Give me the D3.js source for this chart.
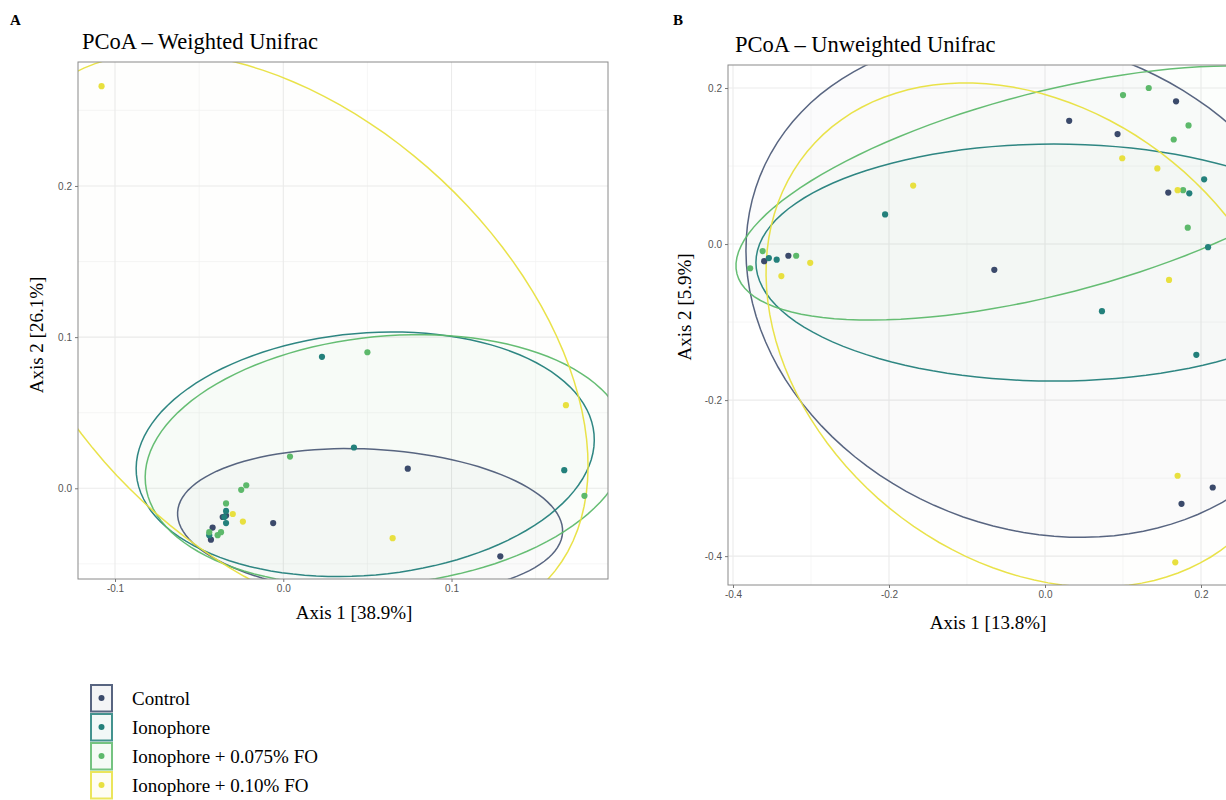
<!DOCTYPE html>
<html lang="en">
<head>
<meta charset="UTF-8">
<title>PCoA – Unifrac</title>
<script src="https://d3js.org/d3.v7.min.js"></script>
<style>
  body { margin: 0; background: #fff; }
  .tick text { font-family: "Liberation Sans", Arial, sans-serif; font-size: 10px; fill: #555; }
  .tick line { stroke: #777; }
  .serif { font-family: "Liberation Serif", "Times New Roman", serif; fill: #000; }
</style>
</head>
<body>
<svg id="chart" width="1226" height="800"></svg>
<script>
// groups and colours
const groups = ["Control", "Ionophore", "Ionophore + 0.075% FO", "Ionophore + 0.10% FO"];
const groupColors = ["#3b4a6b", "#23807b", "#5db96b", "#e8e03f"];

// A: weighted unifrac, [axis1, axis2]
const weightedControl = [[-0.006, -0.023], [0.074, 0.013], [0.129, -0.045], [-0.042, -0.026],
  [-0.043, -0.034], [-0.036, -0.019], [-0.034, -0.018]];
const weightedIonophore = [[0.023, 0.087], [0.042, 0.027], [0.167, 0.012], [-0.034, -0.015],
  [-0.035, -0.019], [-0.034, -0.023], [-0.044, -0.031]];
const weightedFO075 = [[0.050, 0.090], [0.004, 0.021], [0.179, -0.005], [-0.025, -0.001],
  [-0.022, 0.002], [-0.034, -0.010], [-0.037, -0.029], [-0.039, -0.031], [-0.044, -0.029]];
const weightedFO10 = [[-0.108, 0.266], [0.168, 0.055], [0.065, -0.033], [-0.030, -0.017], [-0.024, -0.022]];
// 95% ellipses: [centre x, centre y, axis u x, axis u y, axis v x, axis v y]
const weightedEllipses = [
  [0.0516, -0.0225, 0.1144, -0.0067, -0.0023, -0.0483],
  [0.0487, 0.0225, 0.1360, 0.0133, 0.0063, -0.0798],
  [0.0611, 0.0185, 0.1430, 0.0154, 0.0071, -0.0817],
  [0.0052, 0.0977, 0.1519, -0.1581, -0.0888, -0.1063]
];
const weightedXDomain = [-0.122, 0.193];
const weightedYDomain = [-0.060, 0.282];
const weightedXTicks = [-0.1, 0.0, 0.1];
const weightedYTicks = [0.0, 0.1, 0.2];

// B: unweighted unifrac
const unweightedControl = [[0.031, 0.158], [0.093, 0.141], [0.168, 0.183], [0.158, 0.066],
  [-0.065, -0.033], [-0.360, -0.022], [-0.329, -0.015], [0.215, -0.312], [0.175, -0.333]];
const unweightedIonophore = [[-0.205, 0.038], [0.204, 0.083], [0.185, 0.065], [0.209, -0.004],
  [0.073, -0.086], [0.194, -0.142], [-0.354, -0.018], [-0.344, -0.020]];
const unweightedFO075 = [[0.100, 0.191], [0.133, 0.200], [0.184, 0.152], [0.165, 0.134],
  [0.177, 0.069], [0.183, 0.021], [-0.362, -0.009], [-0.319, -0.015], [-0.378, -0.031]];
const unweightedFO10 = [[-0.169, 0.075], [0.099, 0.110], [0.144, 0.097], [0.170, 0.069],
  [0.159, -0.046], [0.170, -0.297], [0.167, -0.408], [-0.301, -0.024], [-0.338, -0.041]];
const unweightedEllipses = [
  [-0.0090, -0.0551, 0.3564, -0.1422, -0.1147, -0.2876],
  [0.0115, -0.0237, 0.3821, 0.0, 0.0, -0.1519],
  [0.0064, 0.0654, 0.4013, 0.1037, 0.0324, -0.1255],
  [-0.0179, -0.1167, 0.2872, -0.2350, -0.1815, -0.2218]
];
const unweightedXDomain = [-0.4064, 0.2628];
const unweightedYDomain = [-0.437, 0.2295];
const unweightedXTicks = [-0.4, -0.2, 0.0, 0.2];
const unweightedYTicks = [-0.4, -0.2, 0.0, 0.2];

const fmt = d3.formatLocale({ decimal: ".", thousands: ",", grouping: [3], currency: ["", ""], minus: "-" }).format(".1f");

const svg = d3.select("#chart");
svg.append("rect").attr("width", 1226).attr("height", 800).attr("fill", "#fff");

const panels = [
  {
    tag: "A", title: "PCoA – Weighted Unifrac", xLabel: "Axis 1 [38.9%]", yLabel: "Axis 2 [26.1%]",
    points: [weightedControl, weightedIonophore, weightedFO075, weightedFO10],
    ellipses: weightedEllipses,
    xDomain: weightedXDomain, yDomain: weightedYDomain, xTicks: weightedXTicks, yTicks: weightedYTicks,
    left: 78, right: 608, top: 62, bottom: 579,
    tagX: 10, titleX: 82, titleY: 49, xLabelX: 354, xLabelY: 619, yLabelX: 43, yLabelY: 335
  },
  {
    tag: "B", title: "PCoA – Unweighted Unifrac", xLabel: "Axis 1 [13.8%]", yLabel: "Axis 2 [5.9%]",
    points: [unweightedControl, unweightedIonophore, unweightedFO075, unweightedFO10],
    ellipses: unweightedEllipses,
    xDomain: unweightedXDomain, yDomain: unweightedYDomain, xTicks: unweightedXTicks, yTicks: unweightedYTicks,
    left: 728, right: 1250, top: 65, bottom: 585,
    tagX: 673, titleX: 735, titleY: 52, xLabelX: 988, xLabelY: 629, yLabelX: 691, yLabelY: 307
  }
];

// midpoints between major breaks, like ggplot minor grid
function minorBreaks(ticks, domain) {
  const step = ticks[1] - ticks[0];
  const out = [];
  for (let v = ticks[0] - step / 2; v <= domain[1]; v += step) {
    if (v >= domain[0]) out.push(v);
  }
  return out;
}

panels.forEach(p => {
  const x = d3.scaleLinear().domain(p.xDomain).range([p.left, p.right]);
  const y = d3.scaleLinear().domain(p.yDomain).range([p.bottom, p.top]);
  const w = p.right - p.left, h = p.bottom - p.top;

  svg.append("clipPath").attr("id", "clip" + p.tag)
    .append("rect").attr("x", p.left).attr("y", p.top).attr("width", w).attr("height", h);

  const g = svg.append("g").attr("clip-path", `url(#clip${p.tag})`);

  // grid
  g.selectAll(".minx").data(minorBreaks(p.xTicks, p.xDomain)).enter().append("line")
    .attr("x1", d => x(d)).attr("x2", d => x(d)).attr("y1", p.top).attr("y2", p.bottom)
    .attr("stroke", "#f2f2f2").attr("stroke-width", 0.7);
  g.selectAll(".miny").data(minorBreaks(p.yTicks, p.yDomain)).enter().append("line")
    .attr("y1", d => y(d)).attr("y2", d => y(d)).attr("x1", p.left).attr("x2", p.right)
    .attr("stroke", "#f2f2f2").attr("stroke-width", 0.7);
  g.selectAll(".majx").data(p.xTicks).enter().append("line")
    .attr("x1", d => x(d)).attr("x2", d => x(d)).attr("y1", p.top).attr("y2", p.bottom)
    .attr("stroke", "#ebebeb").attr("stroke-width", 1.1);
  g.selectAll(".majy").data(p.yTicks).enter().append("line")
    .attr("y1", d => y(d)).attr("y2", d => y(d)).attr("x1", p.left).attr("x2", p.right)
    .attr("stroke", "#ebebeb").attr("stroke-width", 1.1);

  // ellipses
  const ts = d3.range(0, 121).map(i => i / 120 * 2 * Math.PI);
  const ellipseLine = d3.line().curve(d3.curveLinearClosed);
  const ellPath = e => ellipseLine(ts.map(t => [
    x(e[0] + e[2] * Math.cos(t) + e[4] * Math.sin(t)),
    y(e[1] + e[3] * Math.cos(t) + e[5] * Math.sin(t))
  ]));
  g.selectAll(".efill").data(p.ellipses).enter().append("path")
    .attr("d", ellPath)
    .attr("fill", (d, i) => i === 3 ? "#b8b890" : groupColors[i]).attr("fill-opacity", 0.02).attr("stroke", "none");
  g.selectAll(".eline").data(p.ellipses).enter().append("path")
    .attr("d", ellPath)
    .attr("fill", "none").attr("stroke", (d, i) => groupColors[i])
    .attr("stroke-opacity", (d, i) => i === 0 ? 0.85 : 0.95)
    .attr("stroke-width", 1.5);

  // points
  p.points.forEach((pts, i) => {
    g.selectAll(".pt" + i).data(pts).enter().append("circle")
      .attr("cx", d => x(d[0])).attr("cy", d => y(d[1])).attr("r", 3.1)
      .attr("fill", groupColors[i]);
  });

  // border
  svg.append("rect").attr("x", p.left).attr("y", p.top).attr("width", w).attr("height", h)
    .attr("fill", "none").attr("stroke", "#8a8a8a").attr("stroke-width", 1);

  // axes
  svg.append("g").attr("transform", `translate(0,${p.bottom})`)
    .call(d3.axisBottom(x).tickValues(p.xTicks).tickFormat(fmt).tickSize(3).tickPadding(3))
    .call(a => a.select(".domain").remove());
  svg.append("g").attr("transform", `translate(${p.left},0)`)
    .call(d3.axisLeft(y).tickValues(p.yTicks).tickFormat(fmt).tickSize(3).tickPadding(3))
    .call(a => a.select(".domain").remove());

  // texts
  svg.append("text").attr("class", "serif").attr("x", p.tagX).attr("y", 25)
    .attr("font-size", 15).attr("font-weight", "bold").text(p.tag);
  svg.append("text").attr("class", "serif").attr("x", p.titleX).attr("y", p.titleY)
    .attr("font-size", 22.5).text(p.title);
  svg.append("text").attr("class", "serif").attr("x", p.xLabelX).attr("y", p.xLabelY)
    .attr("text-anchor", "middle").attr("font-size", 19).text(p.xLabel);
  svg.append("text").attr("class", "serif")
    .attr("transform", `translate(${p.yLabelX},${p.yLabelY}) rotate(-90)`)
    .attr("text-anchor", "middle").attr("font-size", 19).text(p.yLabel);
});

// legend
const legend = svg.append("g").attr("transform", "translate(90,684)");
groups.forEach((name, i) => {
  const row = legend.append("g").attr("transform", `translate(0,${i * 29})`);
  row.append("rect").attr("x", 1).attr("y", 1).attr("width", 21).attr("height", 26.5)
    .attr("fill", groupColors[i]).attr("fill-opacity", 0.06)
    .attr("stroke", groupColors[i]).attr("stroke-opacity", 0.85).attr("stroke-width", 2);
  row.append("circle").attr("cx", 11.5).attr("cy", 14).attr("r", 3).attr("fill", groupColors[i]);
  row.append("text").attr("class", "serif").attr("x", 42).attr("y", 20.5)
    .attr("font-size", 19).text(name);
});
</script>
</body>
</html>
